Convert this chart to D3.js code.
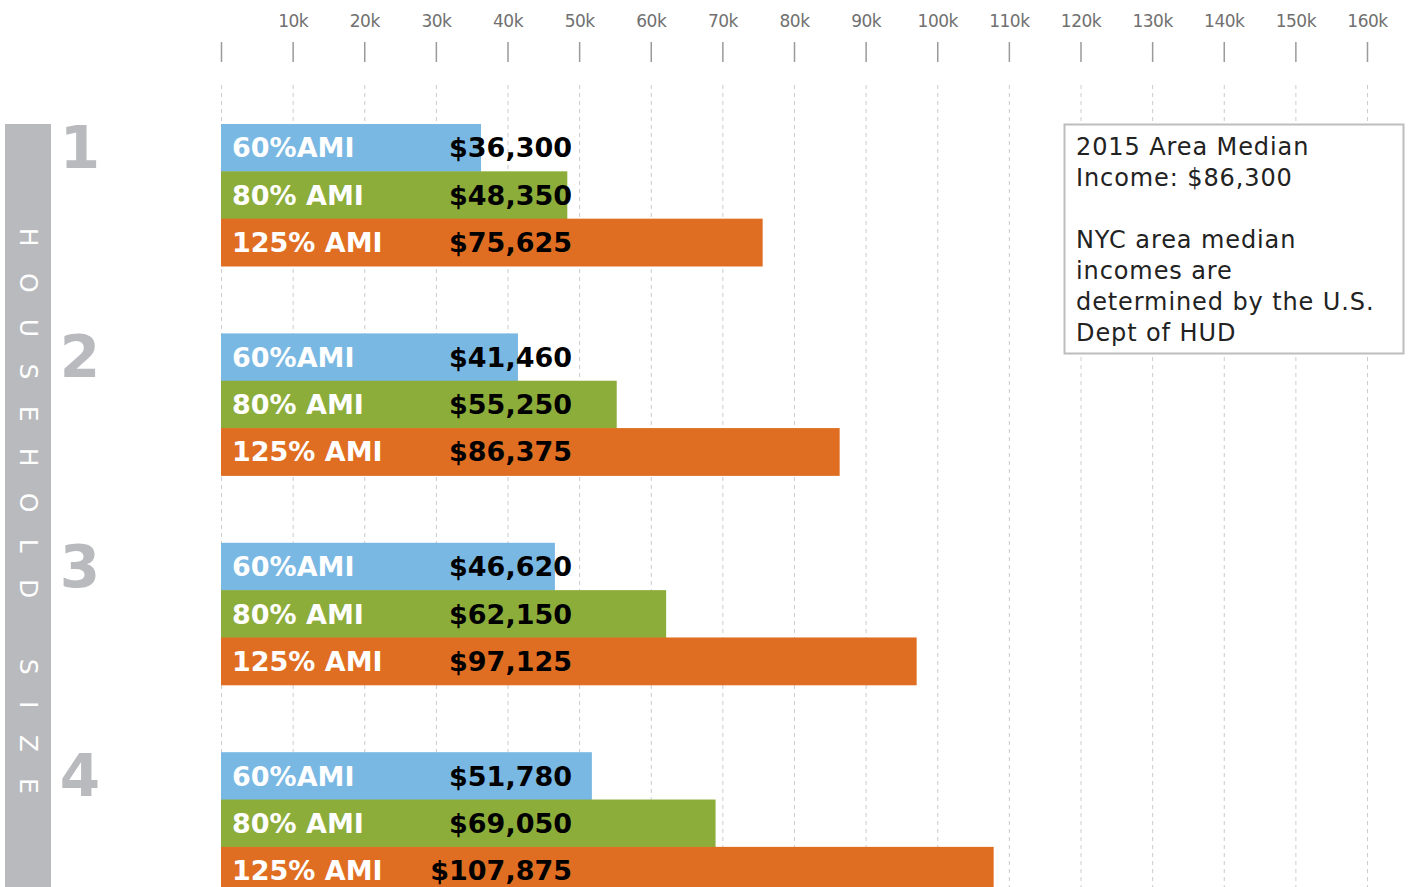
<!DOCTYPE html>
<html>
<head>
<meta charset="utf-8">
<script src="https://cdn.jsdelivr.net/npm/d3@7"></script>
<style>
  html, body { margin: 0; padding: 0; background: #fff; }
  svg { display: block; overflow: hidden; }
  .grid line { stroke: #cccccc; stroke-dasharray: 4 4; }
  .grid path, #x-axis path { display: none; }
  #x-axis line { stroke: #9a9a9a; stroke-width: 1.5; }
</style>
</head>
<body>
<svg id="ami-svg"></svg>
<script>
// Data
const householdSizes = ["1", "2", "3", "4"];
const amiLevels = ["60%AMI", "80% AMI", "125% AMI"];
const ami60 = [36300, 41460, 46620, 51780];
const ami80 = [48350, 55250, 62150, 69050];
const ami125 = [75625, 86375, 97125, 107875];
const tickValues = [0, 10000, 20000, 30000, 40000, 50000, 60000, 70000, 80000,
  90000, 100000, 110000, 120000, 130000, 140000, 150000, 160000];
const noteLines = ["2015 Area Median", "Income: $86,300", "",
  "NYC area median", "incomes are", "determined by the U.S.", "Dept of HUD"];
const sideTitle = "HOUSEHOLD SIZE";

const AMI_COLORS = ["#79b8e3", "#8dad3b", "#e06e22"];
const SIDE_GRAY = "#b9babe";

const svgWidth = 1412;
const svgHeight = 887;
const svg = d3.select("#ami-svg").attr("width", svgWidth).attr("height", svgHeight);

// Scales
const xScale = d3.scaleLinear().domain([0, 160000]).range([221, 1367]);

const groupScale = d3
  .scaleBand()
  .domain(householdSizes)
  .range([124, 124 + 3 * 209.4 + 142])
  .paddingInner(1 - 142 / 209.4)
  .paddingOuter(0);

const levelScale = d3
  .scaleBand()
  .domain(amiLevels)
  .range([0, groupScale.bandwidth()]);

// Grid
const gridTop = 85;
svg
  .append("g")
  .attr("class", "grid")
  .attr("transform", `translate(0,${gridTop})`)
  .call(
    d3.axisBottom(xScale)
      .tickValues(tickValues)
      .tickSize(svgHeight - gridTop)
      .tickFormat("")
  );

// Top Axis
const xAxis = d3
  .axisTop(xScale)
  .tickValues(tickValues)
  .tickSize(20)
  .tickPadding(15)
  .tickFormat((d) => (d === 0 ? "" : d / 1000 + "k"));

svg
  .append("g")
  .attr("id", "x-axis")
  .attr("transform", "translate(0,62)")
  .call(xAxis)
  .selectAll("text")
  .style("font-family", "'DejaVu Sans', sans-serif")
  .style("font-size", "17px")
  .style("letter-spacing", "-0.5px")
  .style("fill", "#707070");

// Side bar
svg
  .append("rect")
  .attr("x", 5)
  .attr("y", 124)
  .attr("width", 46)
  .attr("height", svgHeight - 124)
  .style("fill", SIDE_GRAY);

svg
  .append("text")
  .attr("transform", "translate(28,524) rotate(90)")
  .attr("text-anchor", "middle")
  .attr("dominant-baseline", "central")
  .style("font-family", "'DejaVu Sans', sans-serif")
  .style("font-size", "25px")
  .style("letter-spacing", "26.3px")
  .style("fill", "#fff")
  .text(sideTitle);

// Groups
const groups = svg
  .selectAll(".hh-group")
  .data(householdSizes)
  .enter()
  .append("g")
  .classed("hh-group", true)
  .attr("transform", (d) => `translate(0,${groupScale(d)})`);

groups
  .append("text")
  .attr("x", 80)
  .attr("y", 44)
  .attr("text-anchor", "middle")
  .style("font-family", "'DejaVu Sans', sans-serif")
  .style("font-weight", "bold")
  .style("font-size", "58px")
  .style("fill", SIDE_GRAY)
  .text((d) => d);

const barData = (d, i) =>
  amiLevels.map((level, j) => ({
    level: level,
    color: AMI_COLORS[j],
    value: [ami60, ami80, ami125][j][i],
  }));

const bars = groups
  .selectAll(".ami-bar")
  .data(barData)
  .enter()
  .append("g")
  .classed("ami-bar", true)
  .attr("transform", (d) => `translate(0,${levelScale(d.level)})`);

bars
  .append("rect")
  .attr("x", xScale(0))
  .attr("width", (d) => xScale(d.value) - xScale(0))
  .attr("height", levelScale.bandwidth() + 0.5)
  .style("fill", (d) => d.color);

bars
  .append("text")
  .attr("x", 232)
  .attr("y", levelScale.bandwidth() / 2)
  .attr("dy", "0.36em")
  .style("font-family", "'DejaVu Sans', sans-serif")
  .style("font-weight", "bold")
  .style("font-size", "27px")
  .style("fill", "#fff")
  .text((d) => d.level);

bars
  .append("text")
  .attr("x", 572)
  .attr("y", levelScale.bandwidth() / 2)
  .attr("dy", "0.36em")
  .attr("text-anchor", "end")
  .style("font-family", "'DejaVu Sans', sans-serif")
  .style("font-weight", "bold")
  .style("font-size", "27px")
  .style("fill", "#000")
  .text((d) => "$" + d3.format(",")(d.value));

// Note box
const note = svg.append("g").attr("transform", "translate(1064,124)");
note
  .append("rect")
  .attr("x", 0.5)
  .attr("y", 0.5)
  .attr("width", 339)
  .attr("height", 229)
  .style("fill", "#fff")
  .style("stroke", "#bdbdbd")
  .style("stroke-width", 2);

note
  .selectAll(".note-line")
  .data(noteLines)
  .enter()
  .append("text")
  .classed("note-line", true)
  .attr("x", 12)
  .attr("y", (d, i) => 31 + i * 31)
  .style("font-family", "'DejaVu Sans', sans-serif")
  .style("font-size", "24px")
  .style("letter-spacing", "0.9px")
  .style("fill", "#222")
  .text((d) => d);
</script>
</body>
</html>
